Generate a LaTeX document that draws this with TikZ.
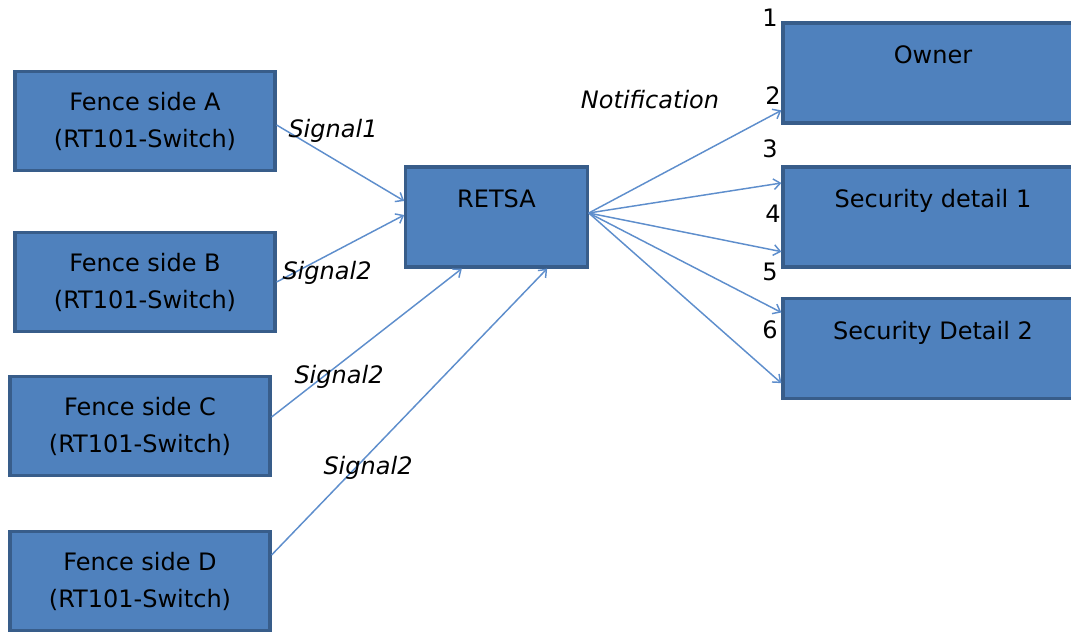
\documentclass[tikz,border=0pt]{standalone}
\usepackage{fontspec}
\setmainfont{DejaVu Sans}
\usetikzlibrary{arrows.meta}
\definecolor{boxfill}{RGB}{79,129,189}
\definecolor{boxline}{RGB}{56,93,138}
\definecolor{arrowblue}{RGB}{94,142,204}

\begin{document}
\begin{tikzpicture}[x=0.75pt,y=-0.75pt,
  box/.style={draw=boxline,fill=boxfill,line width=2.4pt,inner sep=0pt,align=center,
    font=\fontsize{18}{27.75}\selectfont},
  toptext/.style={text height=12pt,text depth=26pt},
  sig/.style={font=\fontsize{18}{21}\selectfont\itshape},
  num/.style={font=\fontsize{18}{21}\selectfont},
  link/.style={arrowblue,line width=1.1pt,-{Straight Barb[length=5pt,width=8pt]}}]
  \useasboundingbox (0,0) rectangle (1071,632);

  % Fence sides
  \node[box,minimum width=195pt,minimum height=74pt] (fa) at (145,121) {Fence side A\\(RT101-Switch)};
  \node[box,minimum width=195pt,minimum height=74pt] (fb) at (145,282) {Fence side B\\(RT101-Switch)};
  \node[box,minimum width=195pt,minimum height=74pt] (fc) at (140,426) {Fence side C\\(RT101-Switch)};
  \node[box,minimum width=195pt,minimum height=74pt] (fd) at (140,581) {Fence side D\\(RT101-Switch)};

  % Central unit
  \node[box,toptext,minimum width=136pt,minimum height=75pt] (retsa) at (496.5,217) {RETSA};

  % Receivers
  \node[box,toptext,minimum width=225pt,minimum height=75pt] (own) at (933,73) {Owner};
  \node[box,toptext,minimum width=225pt,minimum height=75pt] (sd1) at (933,217) {Security detail 1};
  \node[box,toptext,minimum width=225pt,minimum height=75pt] (sd2) at (933,348.5) {Security Detail 2};

  % Signals in
  \draw[link] ([yshift=-3pt]fa.east) -- ([yshift=12pt]retsa.west);
  \draw[link] (fb.east) -- ([yshift=1.5pt]retsa.west);
  \draw[link] ([yshift=6.75pt]fc.east) -- ([xshift=-26pt]retsa.south);
  \draw[link] ([yshift=19.5pt]fd.east) -- ([xshift=38pt]retsa.south);

  % Notifications out
  \draw[link] ([yshift=3pt]retsa.east) -- ([yshift=-28pt]own.west);
  \draw[link] ([yshift=3pt]retsa.east) -- ([yshift=25.5pt]sd1.west);
  \draw[link] ([yshift=3pt]retsa.east) -- ([yshift=-26pt]sd1.west);
  \draw[link] ([yshift=3pt]retsa.east) -- ([yshift=27pt]sd2.west);
  \draw[link] ([yshift=3pt]retsa.east) -- ([yshift=-26pt]sd2.west);

  % Labels
  \node[sig] (sa) at (333,131) {Signal1};
  \node[sig] (sb) at (327,273) {Signal2};
  \node[sig] (sc) at (339,377) {Signal2};
  \node[sig] (sd) at (368,468) {Signal2};
  \node[sig] (note) at (650,100) {Notification};

  % Arrow numbers
  \foreach \n/\px/\py in {1/770/18,2/773/96,3/770/149,4/773/214,5/770/272,6/770/330}
    \node[num] (n\n) at (\px,\py) {\n};
\end{tikzpicture}
\end{document}
